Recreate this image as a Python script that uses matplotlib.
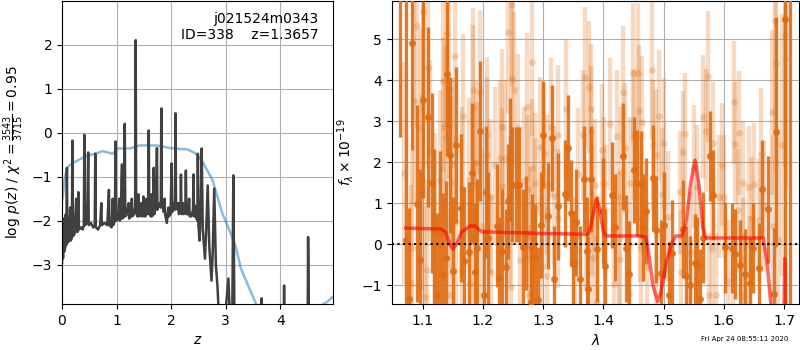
import numpy as np
import matplotlib
matplotlib.use('Agg')
import matplotlib.pyplot as plt

# p(z) curve (spiky) and prior-like smooth curve
z_grid = [0.00, 0.01, 0.02, 0.03, 0.04, 0.06, 0.07, 0.08, 0.09, 0.10, 0.13, 0.15, 0.16, 0.18, 0.19, 0.20,
          0.23, 0.26, 0.27, 0.29, 0.30, 0.31, 0.35, 0.38, 0.40, 0.41, 0.42, 0.46, 0.48, 0.49, 0.53, 0.57,
          0.60, 0.61, 0.62, 0.66, 0.70, 0.72, 0.73, 0.78, 0.83, 0.86, 0.87, 0.91, 0.93, 0.94, 0.97, 0.98,
          0.99, 1.03, 1.05, 1.06, 1.08, 1.09, 1.10, 1.11, 1.14, 1.15, 1.16, 1.19, 1.22, 1.23, 1.26, 1.28,
          1.29, 1.32, 1.34, 1.35, 1.36, 1.38, 1.40, 1.41, 1.44, 1.45, 1.46, 1.48, 1.49, 1.50, 1.53, 1.55,
          1.56, 1.58, 1.59, 1.60, 1.63, 1.64, 1.65, 1.67, 1.68, 1.69, 1.72, 1.74, 1.75, 1.78, 1.81, 1.82,
          1.83, 1.86, 1.88, 1.89, 1.92, 1.95, 1.96, 1.99, 2.01, 2.02, 2.05, 2.07, 2.08, 2.09, 2.12, 2.13,
          2.14, 2.17, 2.18, 2.19, 2.21, 2.22, 2.23, 2.26, 2.27, 2.28, 2.31, 2.33, 2.34, 2.37, 2.40, 2.41,
          2.42, 2.44, 2.45, 2.48, 2.49, 2.50, 2.52, 2.54, 2.56, 2.58, 2.62, 2.64, 2.67, 2.70, 2.74, 2.76,
          2.79, 2.82, 2.85, 2.88, 2.92, 2.98, 3.05, 3.08, 3.12, 3.14, 3.16, 3.25, 3.50, 3.65, 3.66, 3.67,
          3.90, 4.06, 4.07, 4.08, 4.30, 4.50, 4.51, 4.53, 4.60, 4.97]
log_pz = [-2.95, -2.55, -2.85, -1.95, -2.7, -2.6, -1.85, -2.55, -0.8, -2.5, -2.45, -1.7, -2.45, -2.4, -0.18, -2.35,
          -2.3, -1.5, -2.25, -2.25, -1.35, -2.2, -2.15, -2.2, -2.1, -0.05, -2.1, -2.05, -0.45, -2.1, -2.05, -2.15,
          -2.1, -0.48, -2.15, -2.2, -2.1, -1.6, -2.1, -2.05, -2.1, -1.3, -2.1, -2.15, -1.5, -2.1, -2.0, -0.2,
          -2.0, -1.95, -1.5, -2.0, -1.9, -1.08, -0.72, -1.95, -1.9, 0.2, -1.9, -1.85, -1.6, -1.95, -1.9, -1.5,
          -1.9, -1.85, -1.7, 2.1, -1.8, -1.9, -1.4, -1.9, -1.85, -1.6, -1.9, -1.85, -1.45, -1.9, -1.9, -1.5,
          -1.85, -1.8, 0.05, -1.85, -1.9, -1.4, -1.9, -1.85, -0.8, -1.85, -1.7, -0.35, -1.75, -1.6, -1.7, 0.55,
          -1.5, -1.8, -1.5, -1.85, -2.05, -1.7, -1.9, -1.85, -0.7, -1.8, -1.6, -1.75, 0.44, -1.7, -1.75, -1.6,
          -1.85, -1.8, -0.95, -1.85, -1.75, -1.6, -1.85, -1.8, -0.86, -1.85, -1.85, -1.5, -1.9, -1.9, -1.75, -0.95,
          -1.9, -1.66, -1.9, -2.0, -0.48, -2.1, -2.45, -1.8, -0.36, -2.2, -2.86, -2.3, -1.2, -2.6, -3.36, -2.8,
          -1.27, -3.0, -3.5, -4.3, -4.3, -4.3, -3.31, -4.3, -4.3, -0.97, -4.3, -4.5, -4.8, -4.8, -3.76, -4.8,
          -4.8, -4.8, -3.47, -4.8, -4.8, -4.8, -2.37, -4.8, -5.0, -5.0]

z_prior = [0.00, 0.02, 0.05, 0.08, 0.12, 0.23, 0.41, 0.60, 0.75, 0.93, 1.02, 1.24, 1.42, 1.73, 2.03, 2.30,
           2.46, 2.58, 2.76, 2.94, 3.07, 3.16, 3.19, 3.28, 3.56, 3.70, 4.60, 4.74, 4.85, 4.97]
log_prior = [-1.55, -1.39, -1.05, -0.86, -0.76, -0.67, -0.55, -0.48, -0.42, -0.48, -0.36, -0.36, -0.29, -0.29,
             -0.36, -0.38, -0.48, -0.67, -1.08, -1.84, -2.22, -2.5, -2.62, -3.09, -3.9, -4.3, -4.3, -3.93,
             -3.85, -3.72]

# spectrum, dark series
wave_a = [1.063, 1.072, 1.078, 1.083, 1.091, 1.096, 1.101, 1.109, 1.115, 1.119, 1.123, 1.129, 1.133, 1.138,
          1.141, 1.146, 1.151, 1.156, 1.164, 1.168, 1.177, 1.182, 1.187, 1.191, 1.195, 1.201, 1.205, 1.209,
          1.224, 1.227, 1.232, 1.238, 1.242, 1.245, 1.249, 1.255, 1.260, 1.267, 1.271, 1.279, 1.282, 1.287,
          1.292, 1.296, 1.300, 1.308, 1.314, 1.318, 1.325, 1.336, 1.342, 1.346, 1.350, 1.355, 1.361, 1.368,
          1.372, 1.374, 1.379, 1.389, 1.399, 1.403, 1.415, 1.419, 1.433, 1.437, 1.443, 1.451, 1.455, 1.463,
          1.466, 1.471, 1.483, 1.488, 1.495, 1.501, 1.509, 1.513, 1.532, 1.537, 1.544, 1.552, 1.556, 1.560,
          1.565, 1.577, 1.582, 1.601, 1.613, 1.618, 1.626, 1.635, 1.643, 1.648, 1.658, 1.663, 1.673, 1.683,
          1.687, 1.701, 1.709]
flux_a = [6.5, 0.09, -1.33, 4.90, 0.98, -0.38, 3.52, 3.10, 1.49, 0.31, -1.24, 0.27, -0.76, -0.35,
          4.15, 2.18, -0.65, 2.41, 0.88, -0.41, -0.19, 1.73, -0.69, -0.10, 2.76, -1.24, 1.27, 0.15,
          0.45, -0.83, -0.16, -0.55, 1.04, 2.07, 1.45, 1.45, 1.45, -0.06, 0.27, -1.40, -0.07, -0.32,
          -1.37, 0.47, 2.67, 0.69, 2.59, -0.85, 0.92, 1.23, 2.34, 0.76, -0.49, 0.53, -0.85, 1.59,
          -0.16, -1.09, 1.59, -0.12, 0.81, -0.53, 1.20, 0.41, 2.14, -0.10, -0.73, 1.81, 1.49, 1.46,
          0.41, 0.81, 1.61, 0.35, -0.71, 0.47, -1.24, -0.22, 0.37, -0.77, -0.99, -0.46, -0.53, -1.33,
          0.16, 2.14, 1.20, -0.08, -0.09, -0.24, -0.51, -0.73, -0.95, -0.10, -0.59, 1.34, 0.85, -1.21,
          2.73, 5.49, 8.0]
err_a = [3.9, 6.0, 2.2, 2.6, 2.4, 2.2, 2.4, 2.2, 2.2, 2.0, 2.0, 2.0, 2.0, 1.9,
         2.0, 1.9, 1.8, 1.9, 1.8, 1.8, 1.7, 1.7, 1.7, 1.7, 1.7, 1.6, 1.6, 1.6,
         1.5, 1.5, 1.5, 1.4, 1.4, 1.5, 1.4, 1.4, 1.4, 1.4, 1.4, 1.3, 1.3, 1.3,
         1.3, 1.3, 1.3, 1.3, 1.3, 1.3, 1.3, 1.3, 1.3, 1.3, 1.3, 1.3, 1.3, 1.3,
         1.3, 1.3, 1.3, 1.3, 1.3, 1.3, 1.3, 1.3, 1.3, 1.3, 1.3, 1.3, 1.3, 1.3,
         1.3, 1.3, 1.3, 1.3, 1.3, 1.3, 1.3, 1.3, 1.2, 1.2, 1.2, 1.2, 1.2, 1.2,
         1.1, 1.1, 1.1, 1.1, 1.1, 1.1, 1.1, 1.1, 1.1, 1.1, 1.1, 1.2, 1.3, 1.6,
         2.8, 8.0, 12.0]

# spectrum, light series
wave_b = [1.069, 1.080, 1.083, 1.085, 1.091, 1.097, 1.099, 1.101, 1.104, 1.108, 1.109, 1.112, 1.120, 1.129,
          1.134, 1.135, 1.139, 1.141, 1.144, 1.145, 1.147, 1.150, 1.154, 1.156, 1.165, 1.166, 1.167, 1.177,
          1.178, 1.183, 1.184, 1.185, 1.188, 1.191, 1.196, 1.198, 1.206, 1.207, 1.212, 1.213, 1.220, 1.228,
          1.231, 1.232, 1.237, 1.242, 1.245, 1.247, 1.248, 1.249, 1.252, 1.259, 1.262, 1.269, 1.274, 1.275,
          1.276, 1.278, 1.281, 1.282, 1.286, 1.287, 1.295, 1.298, 1.302, 1.306, 1.307, 1.313, 1.318, 1.324,
          1.325, 1.338, 1.353, 1.357, 1.366, 1.369, 1.371, 1.376, 1.379, 1.380, 1.381, 1.382, 1.386, 1.389,
          1.397, 1.401, 1.402, 1.411, 1.417, 1.422, 1.426, 1.427, 1.430, 1.433, 1.436, 1.443, 1.444, 1.449,
          1.451, 1.458, 1.459, 1.461, 1.462, 1.464, 1.473, 1.481, 1.482, 1.487, 1.488, 1.493, 1.497, 1.501,
          1.507, 1.527, 1.528, 1.532, 1.535, 1.544, 1.551, 1.555, 1.565, 1.571, 1.574, 1.575, 1.581, 1.582,
          1.587, 1.592, 1.596, 1.600, 1.607, 1.615, 1.617, 1.618, 1.624, 1.625, 1.631, 1.632, 1.633, 1.642,
          1.643, 1.647, 1.650, 1.659, 1.661, 1.666, 1.679, 1.681, 1.685, 1.686, 1.689, 1.697, 1.701, 1.703]
flux_b = [1.73, -0.95, -0.10, 3.48, 5.32, 2.84, 1.26, 5.66, -1.28, -0.64, 4.29, 2.28, 0.50, 1.57,
          3.97, 2.85, 2.62, 5.15, 3.78, -1.24, 1.50, 1.96, 4.58, 0.53, -0.69, 1.34, 3.13, 1.57,
          -0.94, 3.75, 3.34, 0.08, 1.98, 1.46, 3.72, 0.43, 2.67, 2.18, 1.16, -0.69, 1.93, 2.10,
          1.42, 2.85, 2.10, 5.17, 0.82, -1.05, 5.84, 4.02, 3.76, 2.83, -0.38, 1.54, 3.34, 1.34,
          -1.24, 0.17, 4.44, 1.85, 1.49, 0.88, 2.38, -0.53, 2.22, 1.45, -0.77, 2.85, 1.18, 0.63,
          2.67, 3.30, -0.45, 1.71, 2.65, 4.07, 0.45, 3.83, 3.29, 2.75, 0.82, -0.34, 1.45, -1.40,
          2.30, 1.49, 0.82, 2.93, -0.98, 2.64, 0.15, -0.37, 1.75, 3.71, 2.34, -1.20, 1.50, 4.17,
          2.67, 4.17, 3.25, 0.67, -0.10, 2.98, -0.55, 4.25, 2.41, 2.18, -0.79, 3.13, 1.23, 2.46,
          0.67, 1.26, -0.67, 2.24, 2.68, -0.22, 1.89, 1.40, 3.11, 2.76, 4.09, -1.24, -0.10, 2.46,
          -1.24, 1.16, 1.93, 1.16, -0.90, -0.67, 3.46, 2.45, 0.82, 2.71, 1.49, -0.37, -1.26, 1.39,
          -0.81, 0.63, 1.46, 0.59, 2.20, 0.92, 3.21, 0.45, 5.45, 4.41, 0.10, 2.42, 5.10, 4.54]
err_b = [2.7, 2.4, 2.4, 2.5, 2.5, 2.4, 2.4, 2.5, 2.2, 2.2, 2.4, 2.2, 2.2, 2.2,
         2.2, 2.2, 2.2, 2.3, 2.2, 2.1, 2.1, 2.1, 2.2, 2.1, 2.0, 2.0, 2.0, 2.0,
         2.0, 2.0, 2.0, 2.0, 2.0, 2.0, 2.0, 1.9, 1.9, 1.9, 1.9, 1.9, 1.9, 1.9,
         1.9, 1.9, 1.9, 2.0, 1.8, 1.8, 2.0, 1.9, 1.9, 1.8, 1.8, 1.8, 1.8, 1.8,
         1.7, 1.7, 1.8, 1.7, 1.7, 1.7, 1.7, 1.7, 1.7, 1.7, 1.7, 1.7, 1.7, 1.7,
         1.7, 1.7, 1.6, 1.6, 1.6, 1.7, 1.6, 1.6, 1.6, 1.6, 1.6, 1.6, 1.6, 1.6,
         1.6, 1.6, 1.6, 1.6, 1.6, 1.6, 1.6, 1.6, 1.6, 1.6, 1.6, 1.6, 1.6, 1.7,
         1.6, 1.7, 1.6, 1.6, 1.6, 1.6, 1.6, 1.7, 1.6, 1.6, 1.6, 1.6, 1.6, 1.6,
         1.6, 1.5, 1.5, 1.5, 1.5, 1.5, 1.5, 1.5, 1.5, 1.5, 1.6, 1.5, 1.5, 1.5,
         1.5, 1.5, 1.5, 1.5, 1.5, 1.5, 1.5, 1.5, 1.5, 1.5, 1.5, 1.5, 1.5, 1.5,
         1.5, 1.5, 1.5, 1.5, 1.6, 1.6, 2.0, 2.2, 2.7, 2.7, 2.7, 3.2, 3.2, 3.2]

# best-fit model
wave_m = [1.072, 1.130, 1.138, 1.145, 1.150, 1.156, 1.165, 1.180, 1.187, 1.195, 1.200, 1.300, 1.375, 1.380,
          1.388, 1.393, 1.400, 1.405, 1.460, 1.470, 1.475, 1.482, 1.490, 1.495, 1.505, 1.513, 1.520, 1.530,
          1.537, 1.545, 1.552, 1.558, 1.565, 1.570, 1.665, 1.672, 1.678, 1.685, 1.697, 1.701, 1.705]
flux_m = [0.39, 0.37, 0.30, 0.0, -0.12, 0.0, 0.30, 0.45, 0.44, 0.33, 0.30, 0.26, 0.24, 0.50,
          1.10, 0.90, 0.30, 0.20, 0.20, 0.18, -0.20, -1.0, -1.4, -1.2, -0.4, 0.0, 0.20, 0.20,
          0.50, 1.50, 2.05, 1.50, 0.40, 0.15, 0.15, -0.50, -1.50, -4.0, -4.0, -0.35, -4.0]

orange = '#df6c12'

fig = plt.figure(figsize=(8, 3.5), dpi=100)
ax1 = fig.add_axes([0.0775, 0.1314, 0.339, 0.866])
ax2 = fig.add_axes([0.4896, 0.1314, 0.509, 0.866])

ax1.plot(z_prior, log_prior, color='tab:blue', alpha=0.5, lw=1.8)
ax1.plot(z_grid, log_pz, color='0.25', lw=1.8)
ax1.set_xlim(0, 4.97)
ax1.set_ylim(-3.89, 2.99)
ax1.set_xticks([0, 1, 2, 3, 4])
ax1.grid()
ax1.set_xlabel('$z$')
ax1.set_ylabel(r'log $p(z)$ / $\chi^2=\frac{3543}{3715}=0.95$')
ax1.text(0.945, 0.965, 'j021524m0343\nID=338    z=1.3657', ha='right', va='top',
         transform=ax1.transAxes, fontsize=10)

ax2.errorbar(wave_b, flux_b, yerr=err_b, fmt='o', color=orange, alpha=0.25,
             ms=5, elinewidth=3.2, capsize=0, mew=0, zorder=2)
ax2.errorbar(wave_a, flux_a, yerr=err_a, fmt='o', color=orange, alpha=0.9,
             ms=5, elinewidth=2.4, capsize=0, mew=0, zorder=3)
ax2.plot(wave_m, flux_m, color='red', alpha=0.6, lw=2.5, zorder=4)
ax2.axhline(0, color='k', ls=':', lw=1.5, zorder=5)
ax2.set_xlim(1.0486, 1.7244)
ax2.set_ylim(-1.46, 5.93)
ax2.grid()
ax2.set_axisbelow(True)
ax2.set_xlabel(r'$\lambda$')
ax2.set_ylabel(r'$f_\lambda\times10^{-19}$')

fig.text(0.985, 0.022, 'Fri Apr 24 08:55:11 2020', ha='right', va='bottom', fontsize=5)

fig.savefig('out.png', dpi=100)
